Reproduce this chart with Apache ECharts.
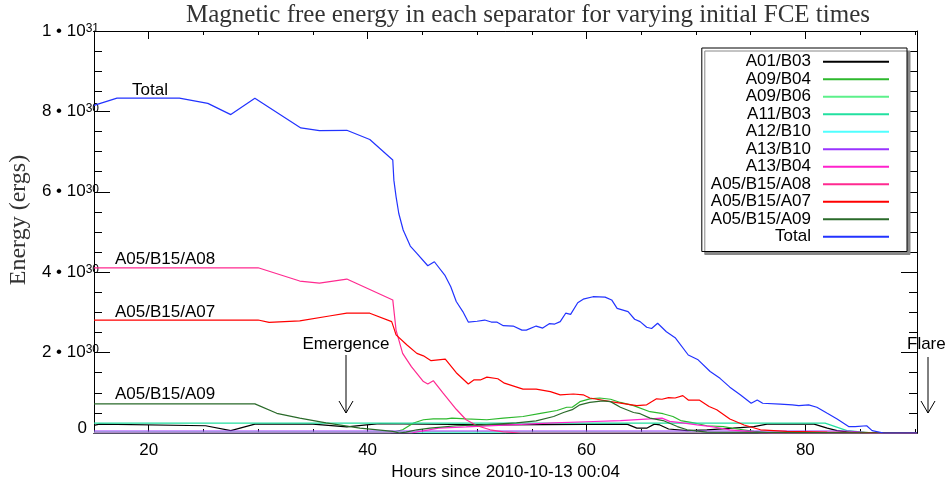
<!DOCTYPE html>
<html>
<head>
<meta charset="utf-8">
<script src="https://cdn.jsdelivr.net/npm/echarts@6/dist/echarts.min.js"></script>
<style>
html, body { margin: 0; padding: 0; background: #fff; }
#chart { width: 948px; height: 481px; }
</style>
</head>
<body>
<div id="chart"></div>
<script>
// [hours since 2010-10-13 00:04, free energy in units of 1e30 erg]
var a01b03 = [[15, 0.19], [15.5, 0.22], [25.2, 0.18], [27.5, 0.06], [29.7, 0.22], [35, 0.22], [38.1, 0.15],
    [39.9, 0.2], [41.1, 0.23], [52.1, 0.2], [63.7, 0.22], [64.6, 0.12], [65.5, 0.12], [66.2, 0.22], [66.7, 0.2],
    [67.5, 0.1], [69.2, 0.06], [71, 0.08], [73.4, 0.12], [75.3, 0.16], [76.5, 0.22], [80.8, 0.22], [82, 0.12],
    [82.9, 0.06], [84.4, 0.01], [90.2, 0]];
var a09b04 = [[15, 0], [42, 0], [43.2, 0.08], [44.2, 0.25], [45.1, 0.33], [46, 0.35], [47.2, 0.35], [47.7, 0.37],
    [49, 0.35], [50.9, 0.33], [52.4, 0.37], [54.2, 0.41], [55.8, 0.49], [57.3, 0.56], [58.2, 0.64], [58.7, 0.64],
    [59.4, 0.78], [60.3, 0.85], [61.2, 0.87], [62.2, 0.84], [63.1, 0.76], [64.3, 0.68], [65.8, 0.53], [67, 0.48],
    [67.9, 0.41], [68.6, 0.31], [69.8, 0.25], [71, 0.18], [72.5, 0.16], [73.8, 0.1], [75.3, 0.04], [77, 0], [90.2, 0]];
var a09b06 = [[15, 0.02], [60, 0.02], [75, 0.01], [90.2, 0]];
var a11b03 = [[15, 0.245], [81.8, 0.245], [83.8, 0.06], [86.3, 0], [90.2, 0]];
var a12b10 = [[15, 0], [90.2, 0]];
var a13b10 = [[15, 0.05], [84, 0.05], [86, 0], [90.2, 0]];
var a13b04 = [[15, 0], [44, 0], [46.5, 0.12], [49, 0.15], [53, 0.2], [57, 0.25], [60, 0.28], [63.1, 0.31],
    [65.8, 0.35], [66.9, 0.37], [67.6, 0.29], [68.6, 0.26], [70.1, 0.2], [71.6, 0.15], [73.1, 0.08], [74.7, 0.04],
    [76, 0], [90.2, 0]];
var a05b15a08 = [[15, 4.11], [30, 4.11], [33.8, 3.78], [35.6, 3.73], [38.1, 3.83], [42.3, 3.31], [42.5, 2.81],
    [42.6, 2.56], [43.2, 1.98], [44, 1.65], [45.1, 1.28], [45.5, 1.22], [46, 1.3], [46.9, 0.99], [48.1, 0.59],
    [49, 0.33], [50, 0.18], [51.2, 0.08], [52.4, 0.03], [54, 0], [90.2, 0]];
var a05b15a07 = [[15, 2.81], [30, 2.81], [31, 2.75], [33.8, 2.79], [36.5, 2.91], [38.1, 2.98], [40.2, 2.98],
    [42.2, 2.77], [42.4, 2.61], [42.6, 2.44], [43.6, 2.19], [44.5, 1.98], [45.1, 1.92], [45.8, 1.8], [47.1, 1.84],
    [48.1, 1.5], [49.2, 1.22], [49.7, 1.32], [50.3, 1.32], [50.9, 1.39], [51.9, 1.35], [52.5, 1.24], [54.2, 1.09],
    [55.4, 1.09], [56.7, 1.03], [57.6, 0.95], [58.8, 0.97], [59.7, 0.95], [60.3, 0.87], [62.2, 0.78], [63.4, 0.73],
    [64.6, 0.68], [65.5, 0.7], [66.4, 0.85], [66.9, 0.84], [67.5, 0.88], [68.1, 0.87], [68.8, 0.93], [69.3, 0.82],
    [70.3, 0.82], [71.2, 0.66], [71.9, 0.58], [73.1, 0.35], [74.4, 0.2], [75.9, 0.08], [78.3, 0.04], [82, 0.02],
    [90.2, 0]];
var a05b15a09 = [[15, 0.725], [29.7, 0.725], [31.7, 0.49], [33.8, 0.37], [36.2, 0.25], [39.3, 0.12], [42.3, 0.04],
    [42.9, 0], [43.5, 0.02], [44.5, 0.08], [45.7, 0.12], [48.1, 0.18], [50.5, 0.2], [53.6, 0.25], [55.4, 0.3],
    [57, 0.41], [57.9, 0.51], [58.7, 0.58], [59.4, 0.7], [60.3, 0.76], [61.5, 0.8], [62.2, 0.78], [63.1, 0.64],
    [64.3, 0.51], [64.9, 0.48], [65.8, 0.37], [67, 0.31], [68.3, 0.16], [69.2, 0.08], [71, 0.02], [90.2, 0]];
var total = [[15, 8.15], [17.1, 8.33], [22.8, 8.33], [25.4, 8.2], [27.5, 7.92], [29.7, 8.33], [33.9, 7.59],
    [35.6, 7.52], [38.1, 7.53], [40.2, 7.3], [42.3, 6.79], [42.4, 6.29], [42.6, 5.88], [42.85, 5.46], [43.25, 5.05],
    [43.9, 4.65], [44.5, 4.47], [45.5, 4.16], [46.1, 4.26], [47.05, 3.93], [47.6, 3.64], [48.1, 3.27], [48.7, 3.02],
    [49.2, 2.76], [50, 2.78], [50.7, 2.81], [51.3, 2.76], [51.8, 2.76], [52.4, 2.67], [53.3, 2.66], [54.1, 2.56],
    [54.5, 2.56], [55.4, 2.66], [56, 2.61], [56.6, 2.72], [57.1, 2.71], [57.6, 2.77], [58.1, 2.98], [58.55, 2.95],
    [59.2, 3.24], [59.7, 3.33], [60.6, 3.39], [61.7, 3.38], [62.3, 3.31], [62.8, 3.1], [63.8, 3.02], [64.4, 2.83],
    [64.9, 2.77], [65.5, 2.63], [65.95, 2.6], [66.5, 2.73], [67.3, 2.52], [68.1, 2.37], [69.3, 1.94], [70.2, 1.82],
    [71.3, 1.53], [72.2, 1.36], [73.1, 1.14], [74.05, 0.95], [75.05, 0.74], [75.6, 0.82], [76.1, 0.74], [77.7, 0.72],
    [78.8, 0.7], [79.4, 0.68], [80.3, 0.7], [81.05, 0.64], [82, 0.49], [82.9, 0.35], [83.95, 0.16], [84.55, 0.16],
    [85.6, 0.18], [86.1, 0.06], [87.15, 0], [90.2, 0]];

var names = ['A01/B03', 'A09/B04', 'A09/B06', 'A11/B03', 'A12/B10', 'A13/B10', 'A13/B04',
    'A05/B15/A08', 'A05/B15/A07', 'A05/B15/A09', 'Total'];
var colors = ['#000000', '#2db82d', '#5cf08a', '#22e0a0', '#50ffff', '#9933ff', '#ff22cc',
    '#ff2a90', '#ff0000', '#2a6a2a', '#2233ff'];
var values = [a01b03, a09b04, a09b06, a11b03, a12b10, a13b10, a13b04, a05b15a08, a05b15a07, a05b15a09, total];

var majorHours = [20, 40, 60, 80];
var minorHours = [25, 30, 35, 45, 50, 55, 65, 70, 75, 85, 90];

var sans = 'Liberation Sans, Arial, sans-serif';
var serif = 'Liberation Serif, Times New Roman, serif';

var chart = echarts.init(document.getElementById('chart'));

var series = [];
for (var i = 0; i < names.length; i++) {
    series.push({
        name: names[i],
        type: 'line',
        xAxisIndex: 0,
        yAxisIndex: 0,
        symbol: 'none',
        color: colors[i],
        lineStyle: { width: 1.2, color: colors[i] },
        data: values[i].map(function (p) { return [p[0], p[1] * 1e30]; })
    });
}

function xAxisOf(pos, ticks, len, labels) {
    return {
        type: 'value', position: pos, min: 15, max: 90.2,
        axisLine: { show: true, onZero: false, lineStyle: { color: '#000', width: 1 } },
        axisTick: { show: true, inside: true, length: len, customValues: ticks, lineStyle: { color: '#000' } },
        axisLabel: labels ? { show: true, customValues: ticks, color: '#000', fontSize: 17, fontFamily: sans, margin: 9 } : { show: false },
        splitLine: { show: false }
    };
}

var xMain = xAxisOf('bottom', majorHours, 8, true);
xMain.name = 'Hours since 2010-10-13 00:04';
xMain.nameLocation = 'middle';
xMain.nameGap = 27;
xMain.nameTextStyle = { fontSize: 17, fontFamily: sans, color: '#000' };

function yAxisOf(pos, labels) {
    return {
        type: 'value', position: pos, min: 0, max: 1e31, interval: 2e30,
        axisLine: { show: true, onZero: false, lineStyle: { color: '#000', width: 1 } },
        axisTick: { show: true, inside: true, length: 16, lineStyle: { color: '#000' } },
        minorTick: { show: true, splitNumber: 4, length: 8, lineStyle: { color: '#000' } },
        axisLabel: labels ? {
            show: true, margin: -5, color: '#000',
            formatter: function (v) {
                if (v === 0) return '{z|0}{p| }';
                var e = Math.floor(Math.log10(v) + 1e-9);
                var m = Math.round(v / Math.pow(10, e));
                return '{m|' + m + ' • 10}{s|' + e + '}';
            },
            rich: {
                m: { fontSize: 17, lineHeight: 17, fontFamily: sans, color: '#000' },
                s: { fontSize: 12, lineHeight: 12, fontFamily: sans, color: '#000', verticalAlign: 'top', padding: [0, 0, 11, 0] },
                z: { fontSize: 17, lineHeight: 17, fontFamily: sans, color: '#000', padding: [0, 0, 10, 0] },
                p: { fontSize: 12, width: 12 }
            }
        } : { show: false },
        splitLine: { show: false },
        minorSplitLine: { show: false }
    };
}

var yMain = yAxisOf('left', true);
yMain.name = 'Energy (ergs)';
yMain.nameLocation = 'middle';
yMain.nameGap = 60;
yMain.nameTextStyle = { fontSize: 24, fontFamily: serif, color: '#333', padding: [0, 0, 0, 24] };

function note(text, x, y, align) {
    return {
        type: 'text', x: x, y: y,
        style: { text: text, fill: '#000', font: '17px ' + sans, textAlign: align || 'left', textVerticalAlign: 'middle' }
    };
}

function arrow(x, y0, y1) {
    return {
        type: 'group', children: [
            { type: 'line', shape: { x1: x, y1: y0, x2: x, y2: y1 }, style: { stroke: '#000', lineWidth: 1 } },
            { type: 'polyline', shape: { points: [[x - 7, y1 - 12], [x, y1], [x + 7, y1 - 12]] }, style: { stroke: '#000', lineWidth: 1, fill: null } }
        ]
    };
}

var option = {
    animation: false,
    backgroundColor: '#fff',
    title: {
        text: 'Magnetic free energy in each separator for varying initial FCE times',
        left: 181, top: -2,
        textStyle: { fontFamily: serif, fontSize: 25, fontWeight: 'normal', color: '#333' }
    },
    grid: { left: 94, right: 31, top: 31, bottom: 48, containLabel: false, outerBoundsMode: 'none' },
    legend: {
        data: names,
        orient: 'vertical', align: 'right',
        right: 41, top: 48,
        padding: [5, 18, 6, 9],
        itemGap: 0,
        itemWidth: 66, itemHeight: 2,
        icon: 'path://M0,0H66V2H0Z',
        symbolKeepAspect: false,
        selectedMode: false,
        backgroundColor: '#fff',
        borderColor: '#000', borderWidth: 1,
        shadowColor: '#888', shadowBlur: 0, shadowOffsetX: 3, shadowOffsetY: 3,
        textStyle: { fontSize: 17, fontFamily: sans, color: '#000', lineHeight: 17.5, padding: [0, 7, 0, 0] }
    },
    xAxis: [
        xMain,
        xAxisOf('bottom', minorHours, 4, false),
        xAxisOf('top', majorHours, 8, false),
        xAxisOf('top', minorHours, 4, false)
    ],
    yAxis: [yMain, yAxisOf('right', false)],
    series: series,
    graphic: [
        note('Total', 132, 90),
        note('A05/B15/A08', 115, 259),
        note('A05/B15/A07', 115, 312),
        note('A05/B15/A09', 115, 394),
        note('Emergence', 346, 344, 'center'),
        note('Flare', 907, 344),
        arrow(346, 355, 413),
        arrow(928, 357, 413)
    ]
};

chart.setOption(option);
</script>
</body>
</html>
